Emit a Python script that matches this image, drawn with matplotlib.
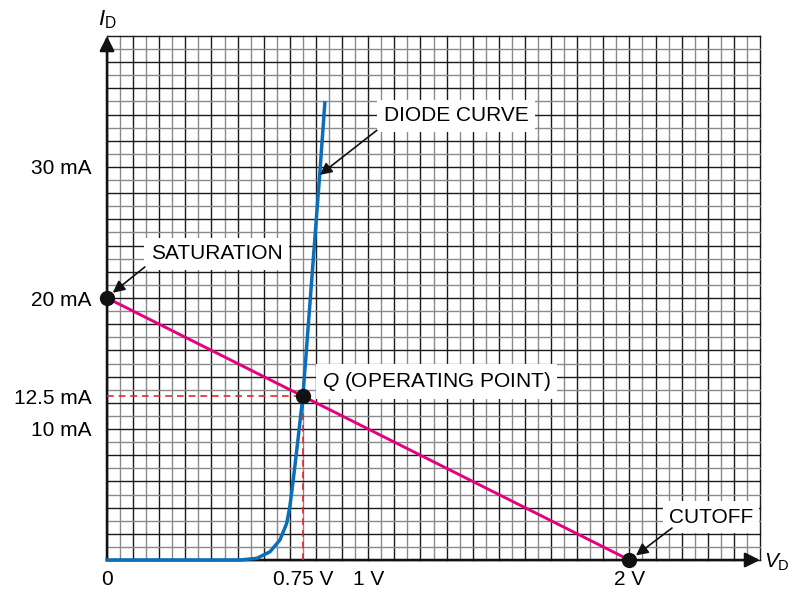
import numpy as np
import matplotlib
matplotlib.use("Agg")
import matplotlib.pyplot as plt

plt.rcParams['font.family'] = ['Liberation Sans', 'DejaVu Sans']
plt.rcParams['mathtext.fontset'] = 'custom'
plt.rcParams['mathtext.rm'] = 'Liberation Sans'
plt.rcParams['mathtext.it'] = 'Liberation Sans:italic'

# diode curve (V, mA)
diode_v = [0.0, 0.509, 0.574, 0.624, 0.662, 0.688, 0.700, 0.713, 0.730, 0.750, 0.815, 0.834]
diode_i = [0.0, 0.0, 0.13, 0.63, 1.53, 2.8, 4.07, 6.1, 9.0, 12.5, 29.6, 34.9]

# load line end points (cutoff, saturation) and Q point
load_v = [0.0, 2.0]
load_i = [20.0, 0.0]
q_v = 0.75
q_i = 12.5

x_ticks = [0, 0.75, 1, 2]
x_labels = ["0", "0.75 V", "1 V", "2 V"]
y_ticks = [10, 12.5, 20, 30]
y_labels = ["10 mA", "12.5 mA", "20 mA", "30 mA"]

xmax, ymax = 2.5, 40

fig = plt.figure(figsize=(7.92, 5.92), dpi=100)
ax = fig.add_axes([107/792, 32/592, 653/792, 524/592])
ax.set_xlim(0, xmax)
ax.set_ylim(0, ymax)
for s in ax.spines.values():
    s.set_visible(False)

# graph paper grid
cols = ['#1a1a1a', '#8a8a8a']
for k, xv in enumerate(np.arange(0, xmax + 0.001, 0.05)):
    ax.axvline(xv, color=cols[k % 2], lw=1.0, zorder=1, clip_on=False)
for k, yv in enumerate(np.arange(0, ymax + 0.001, 1)):
    ax.axhline(yv, color=cols[k % 2], lw=1.0, zorder=1, clip_on=False)

# axes with arrows
ax.annotate("", xy=(0, ymax), xytext=(0, 0),
            arrowprops=dict(arrowstyle='-|>', color='#111', lw=1.8,
                            mutation_scale=22, shrinkA=0, shrinkB=0),
            zorder=3, annotation_clip=False)
ax.annotate("", xy=(xmax, 0), xytext=(0, 0),
            arrowprops=dict(arrowstyle='-|>', color='#111', lw=1.8,
                            mutation_scale=22, shrinkA=0, shrinkB=0),
            zorder=3, annotation_clip=False)

# dashed projections of Q
ax.plot([0, q_v], [q_i, q_i], color='#e5262a', lw=1.2, ls=(0, (4, 3)), zorder=4)
ax.plot([q_v, q_v], [0, q_i], color='#e5262a', lw=1.2, ls=(0, (4, 3)), zorder=4)

ax.plot(load_v, load_i, color='#e6007e', lw=2.1, zorder=5, solid_capstyle='butt')
ax.plot(diode_v, diode_i, color='#0a6fb8', lw=2.5, zorder=6, clip_on=False)

ax.plot([0, q_v, 2.0], [20, q_i, 0], 'o', color='#111', ms=10, zorder=8, clip_on=False)

ax.set_xticks(x_ticks)
ax.set_xticklabels(x_labels, fontsize=15)
ax.set_yticks(y_ticks)
ax.set_yticklabels(y_labels, fontsize=15)
ax.tick_params(length=0)
ax.tick_params(axis='x', pad=7)
ax.tick_params(axis='y', pad=11)

box = dict(boxstyle='square,pad=0.3', fc='white', ec='none')
arr = dict(arrowstyle='-|>', color='#111', lw=1.2, mutation_scale=18, shrinkA=0, shrinkB=0)

ax.text(1.336, 33.9, "DIODE CURVE", fontsize=15, ha='center', va='center', bbox=box, zorder=9)
ax.annotate("", xy=(0.815, 29.4), xytext=(1.033, 32.8), arrowprops=arr, zorder=9)

ax.text(0.419, 23.36, "SATURATION", fontsize=15, ha='center', va='center', bbox=box, zorder=9)
ax.annotate("", xy=(0.022, 20.4), xytext=(0.145, 22.37), arrowprops=arr, zorder=9)

ax.text(1.261, 13.63, "$Q$ (OPERATING POINT)", fontsize=15, ha='center', va='center', bbox=box, zorder=9)

ax.text(2.312, 3.28, "CUTOFF", fontsize=15, ha='center', va='center', bbox=box, zorder=9)
ax.annotate("", xy=(2.025, 0.35), xytext=(2.163, 2.44), arrowprops=arr, zorder=9)

ax.text(-0.034, 40.84, "$I_{\\mathrm{D}}$", fontsize=16, ha='left', va='baseline', clip_on=False)
ax.text(2.515, -0.6, "$V_{\\mathrm{D}}$", fontsize=15, ha='left', va='baseline', clip_on=False)

fig.savefig("out.png", dpi=100)
